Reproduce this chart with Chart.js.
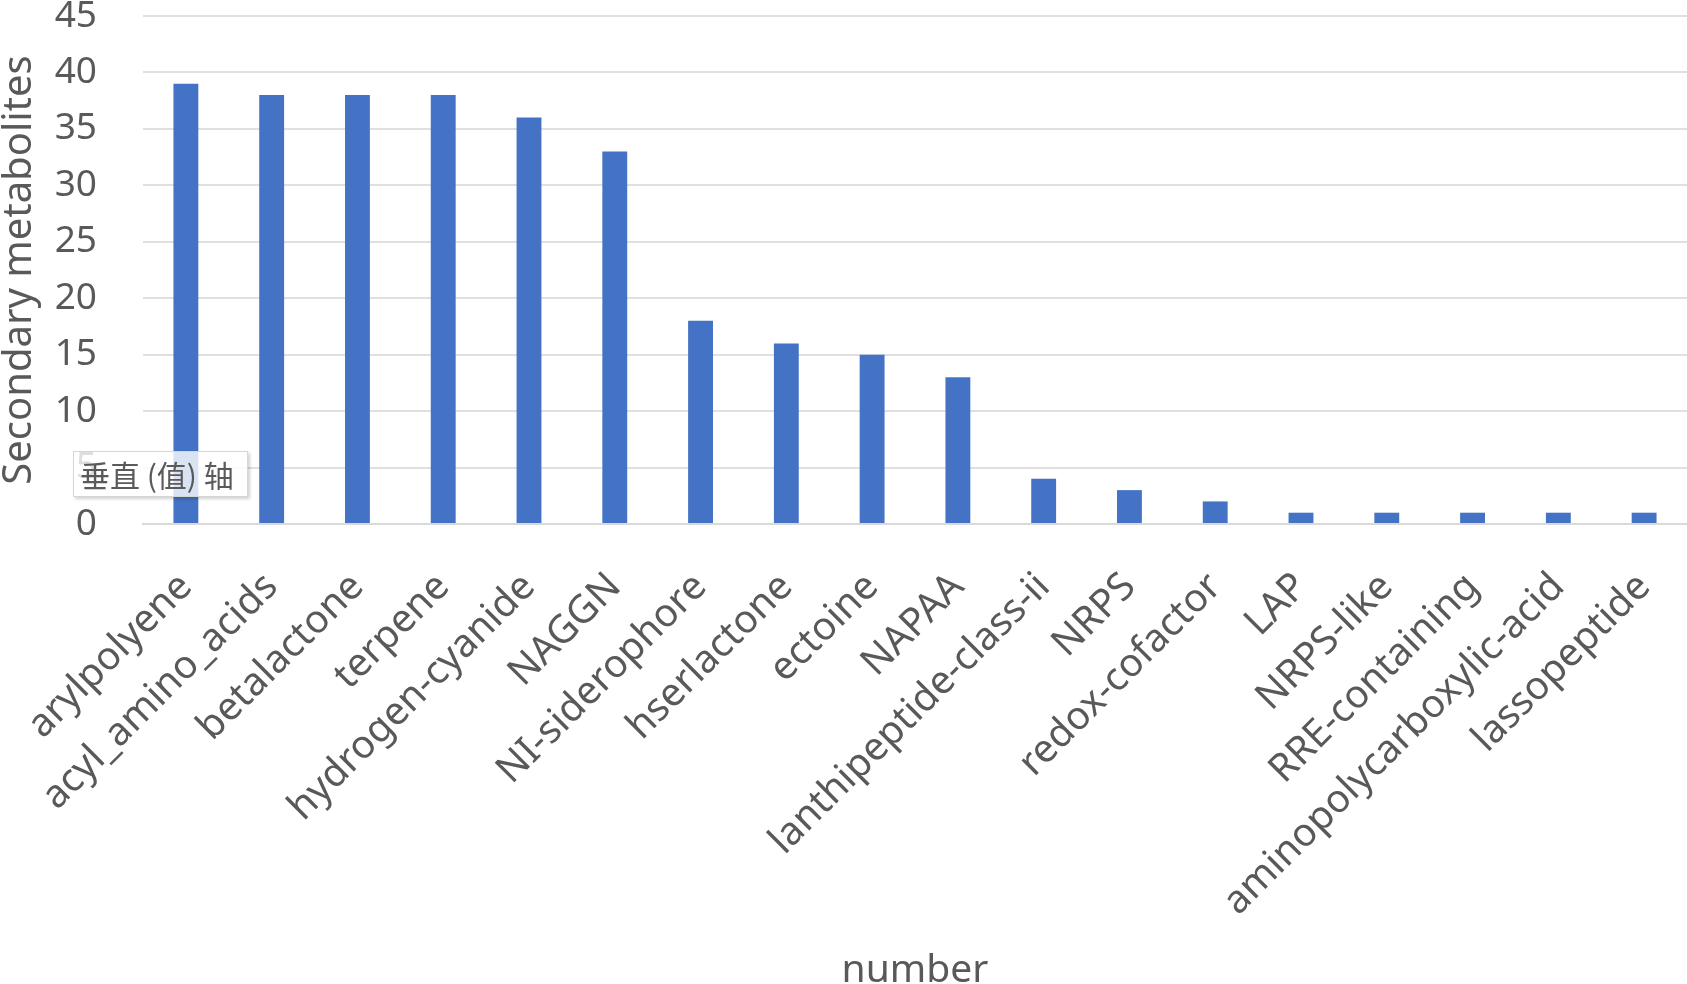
<!DOCTYPE html>
<html>
<head>
<meta charset="utf-8">
<script src="https://cdn.jsdelivr.net/npm/chart.js@4"></script>
<style>
  html, body { margin: 0; padding: 0; background: #ffffff; overflow: hidden; }
  #wrap { position: relative; width: 1687px; height: 984px; }
  #tip {
    position: absolute; left: 73px; top: 451px; width: 175px; height: 46px;
    box-sizing: border-box; background: rgba(255,255,255,0.8);
    border: 1px solid #d6d6d6; box-shadow: 2px 2px 3px rgba(0,0,0,0.18);
    font-family: "Noto Sans CJK SC", sans-serif; font-size: 30px; color: #5a5a5a;
    line-height: 44px; padding-left: 6px; white-space: nowrap;
  }
</style>
</head>
<body>
<div id="wrap">
  <canvas id="c" width="1687" height="984"></canvas>
  <div id="tip">垂直 (值) 轴</div>
</div>
<script>
const categories = ["arylpolyene", "acyl_amino_acids", "betalactone", "terpene", "hydrogen-cyanide", "NAGGN", "NI-siderophore", "hserlactone", "ectoine", "NAPAA", "lanthipeptide-class-ii", "NRPS", "redox-cofactor", "LAP", "NRPS-like", "RRE-containing", "aminopolycarboxylic-acid", "lassopeptide"];
const values = [39, 38, 38, 38, 36, 33, 18, 16, 15, 13, 4, 3, 2, 1, 1, 1, 1, 1];
const yTicks = [0, 5, 10, 15, 20, 25, 30, 35, 40, 45];
const yTitle = "Secondary metabolites";
const xTitle = "number";

const FONT = "'Noto Sans', 'Open Sans', sans-serif";
const GREY = "#595959";

new Chart(document.getElementById('c'), {
  type: 'bar',
  data: {
    labels: categories,
    datasets: [{
      data: values,
      backgroundColor: '#4472C4',
      borderWidth: 0,
      barPercentage: 0.29,
      categoryPercentage: 1.0
    }]
  },
  options: {
    responsive: false,
    animation: false,
    layout: { padding: { top: 16, right: 0, left: 0, bottom: 0 } },
    plugins: { legend: { display: false }, tooltip: { enabled: false } },
    scales: {
      x: {
        grid: { display: false, drawTicks: false },
        border: { display: true, color: '#d9d9d9', width: 2 },
        ticks: {
          color: GREY, font: { family: FONT, size: 39 },
          minRotation: 45, maxRotation: 45, padding: 40, autoSkip: false
        },
        title: {
          display: true, text: xTitle, color: GREY,
          font: { family: FONT, size: 39, lineHeight: 0.65 }, padding: 0
        },
        afterFit: (s) => { s.height = 460; s.paddingLeft = 0; s.paddingRight = 0; }
      },
      y: {
        min: 0, max: 45,
        afterBuildTicks: (s) => { s.ticks = yTicks.map(v => ({ value: v })); },
        grid: { color: '#e0e0e0', lineWidth: 2, drawTicks: false },
        border: { display: false },
        ticks: { color: GREY, font: { family: FONT, size: 37 }, padding: 46 },
        title: {
          display: true, text: yTitle, color: GREY,
          font: { family: FONT, size: 40, lineHeight: 1.0 }, padding: 0
        },
        afterFit: (s) => { s.width = 143; s.paddingTop = 0; s.paddingBottom = 0; }
      }
    }
  }
});
</script>
</body>
</html>
